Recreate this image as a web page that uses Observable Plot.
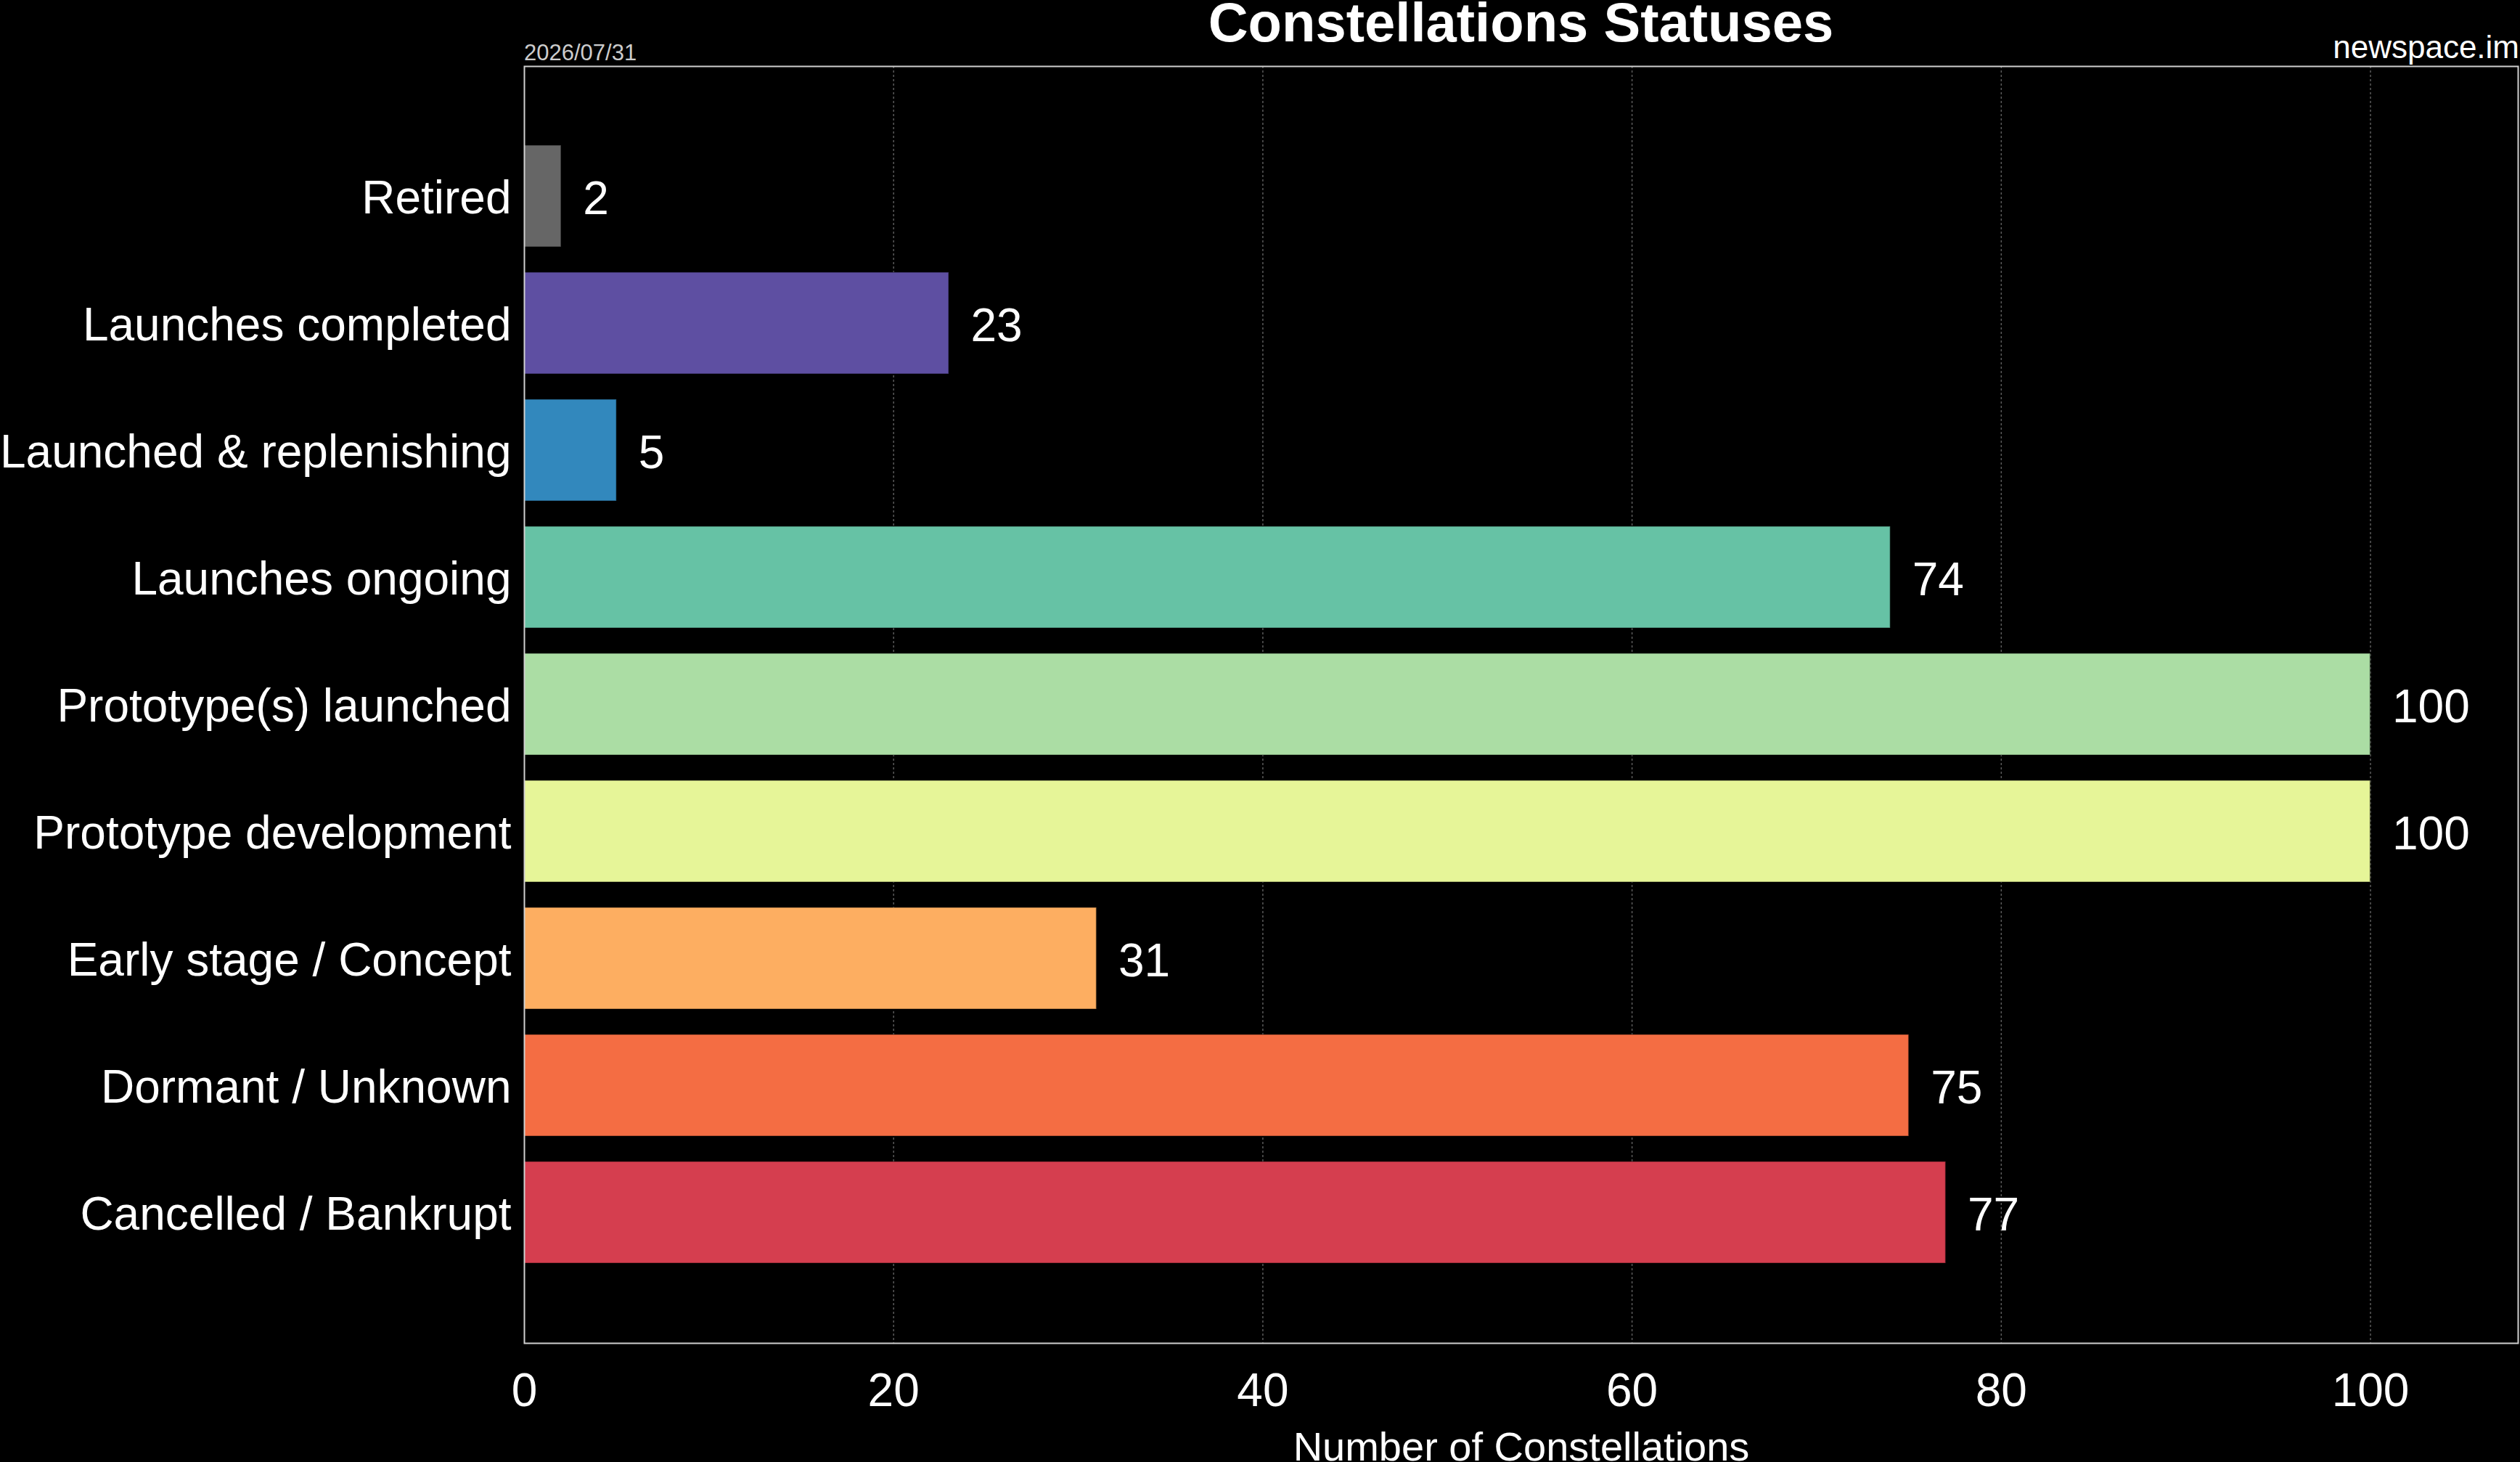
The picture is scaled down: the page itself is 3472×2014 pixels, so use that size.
<!DOCTYPE html>
<html>
<head>
<meta charset="utf-8">
<script src="https://cdn.jsdelivr.net/npm/d3@7"></script>
<script src="https://cdn.jsdelivr.net/npm/@observablehq/plot@0.6"></script>
<style>
  html, body { margin: 0; padding: 0; background: #000; overflow: hidden; }
  #page { position: relative; width: 3472px; height: 2014px; overflow: hidden; background: #000; font-family: "Liberation Sans", Arial, sans-serif; }
  #header { position: relative; width: 3472px; height: 89px; }
  #title { position: absolute; left: 722px; width: 2747px; top: 3px; text-align: center; font-size: 76px; line-height: 56px; font-weight: bold; color: #fff; white-space: nowrap; }
  #date { position: absolute; left: 722px; top: 56.5px; font-size: 31px; line-height: 31px; color: #cccccc; white-space: nowrap; }
  #source { position: absolute; right: 1px; top: 43px; font-size: 44px; line-height: 44px; color: #fff; white-space: nowrap; }
  svg { display: block; }
</style>
</head>
<body>
<div id="page">
  <div id="header">
    <div id="title">Constellations Statuses</div>
    <div id="date">2026/07/31</div>
    <div id="source">newspace.im</div>
  </div>
  <div id="chart"></div>
</div>
<script>
const statuses = [
  "Retired",
  "Launches completed",
  "Launched & replenishing",
  "Launches ongoing",
  "Prototype(s) launched",
  "Prototype development",
  "Early stage / Concept",
  "Dormant / Unknown",
  "Cancelled / Bankrupt"
];
const counts = [2, 23, 5, 74, 100, 100, 31, 75, 77];
const colors = ["#666666", "#5e4fa2", "#3288bd", "#66c2a5", "#abdda4", "#e6f598", "#fdae61", "#f46d43", "#d53e4f"];
const xTicks = [0, 20, 40, 60, 80, 100];
const gridTicks = [20, 40, 60, 80, 100];
const xLabel = "Number of Constellations";

const data = statuses.map((s, i) => ({status: s, count: counts[i], color: colors[i]}));

const chart = Plot.plot({
  width: 3472,
  height: 1925,
  marginTop: 2,
  marginBottom: 164,
  marginLeft: 722,
  marginRight: 3,
  style: {background: "#000", color: "#fff", fontFamily: "'Liberation Sans', Arial, sans-serif"},
  x: {domain: [0, 108]},
  y: {domain: statuses, paddingInner: 0.2, paddingOuter: 0.6, align: 0.5},
  marks: [
    Plot.gridX(gridTicks, {stroke: "#5a5a5a", strokeOpacity: 1, strokeWidth: 1.5, strokeDasharray: "3,3"}),
    Plot.barX(data, {x: "count", y: "status", fill: "color", stroke: "#000", strokeOpacity: 0.35, strokeWidth: 1.5}),
    Plot.text(data, {x: "count", y: "status", text: d => String(d.count), dx: 30, dy: 4, textAnchor: "start", fill: "#fff", fontSize: 64}),
    Plot.axisY({tickSize: 0, tickPadding: 18, fontSize: 64, fill: "#fff", label: null, dy: 3}),
    Plot.axisX({ticks: xTicks, tickSize: 0, tickPadding: 41, fontSize: 64, fill: "#fff", label: null}),
    Plot.text([xLabel], {text: d => d, frameAnchor: "bottom", lineAnchor: "bottom", dy: 161, fontSize: 56, fill: "#fff"}),
    Plot.frame({stroke: "#d0d0d0", strokeWidth: 2})
  ]
});
document.getElementById("chart").appendChild(chart);
</script>
</body>
</html>
